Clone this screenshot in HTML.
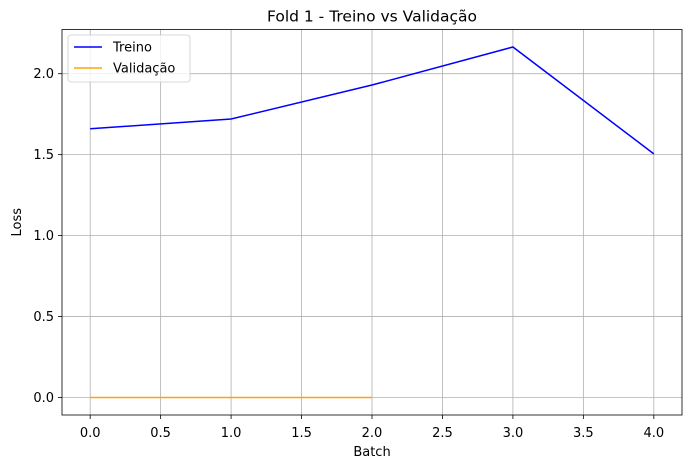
<!DOCTYPE html>
<html><head><meta charset="utf-8"><style>
body{margin:0;background:#fff;font-family:"Liberation Sans","DejaVu Sans",sans-serif;}
svg text{font-family:"DejaVu Sans","Liberation Sans",sans-serif;}
</style></head><body>
<svg id="chart" width="691" height="468" xmlns="http://www.w3.org/2000/svg"></svg>
<script>
const trainBatches = [0, 1, 2, 3, 4];
const trainLoss = [1.66, 1.72, 1.93, 2.165, 1.505];
const valBatches = [0, 1, 2];
const valLoss = [0, 0, 0];
const xTicks = [0.0, 0.5, 1.0, 1.5, 2.0, 2.5, 3.0, 3.5, 4.0];
const yTicks = [0.0, 0.5, 1.0, 1.5, 2.0];

const L=62, R=682, T=29.5, B=415;
const xMin=-0.2, xMax=4.2, yMin=-0.108, yMax=2.273;
const sx=v=>L+(v-xMin)/(xMax-xMin)*(R-L);
const sy=v=>B-(v-yMin)/(yMax-yMin)*(B-T);
const svg=document.getElementById('chart');
const NS='http://www.w3.org/2000/svg';
function mk(tag,attrs,parent){const e=document.createElementNS(NS,tag);for(const k in attrs)e.setAttribute(k,attrs[k]);(parent||svg).appendChild(e);return e;}

const grid=mk('g',{});


xTicks.forEach(t=>{
  const l=mk('line',{x1:sx(t),x2:sx(t),y1:T,y2:B,stroke:'#b0b0b0','stroke-width':0.8},grid);
  
  
  mk('line',{x1:sx(t),x2:sx(t),y1:B,y2:B+4,stroke:'#000','stroke-width':0.8});
  const tx=mk('text',{x:sx(t),y:B+22,'text-anchor':'middle','font-size':13});
  tx.textContent=t.toFixed(1);
  
  
});
yTicks.forEach(t=>{
  const l=mk('line',{x1:L,x2:R,y1:sy(t),y2:sy(t),stroke:'#b0b0b0','stroke-width':0.8},grid);
  
  
  mk('line',{x1:L-4,x2:L,y1:sy(t),y2:sy(t),stroke:'#000','stroke-width':0.8});
  const tx=mk('text',{x:L-8,y:sy(t)+4.5,'text-anchor':'end','font-size':13});
  tx.textContent=t.toFixed(1);
  
  
});

const tl=mk('polyline',{points:trainBatches.map((b,i)=>sx(b)+','+sy(trainLoss[i])).join(' '),fill:'none',stroke:'#0000ff','stroke-width':1.5});


const vl=mk('polyline',{points:valBatches.map((b,i)=>sx(b)+','+sy(valLoss[i])).join(' '),fill:'none',stroke:'#ffa500','stroke-width':1.5});



const frame=mk('rect',{x:L,y:T,width:R-L,height:B-T,fill:'none',stroke:'#000','stroke-width':0.8});



const title=mk('text',{x:(L+R)/2,y:T-8,'text-anchor':'middle','font-size':15.5});
title.textContent='Fold 1 - Treino vs Validação';


const xl=mk('text',{x:(L+R)/2,y:456,'text-anchor':'middle','font-size':13});
xl.textContent='Batch';


const yl=mk('text',{x:21,y:(T+B)/2,'text-anchor':'middle','font-size':13,transform:'rotate(-90 21 '+((T+B)/2)+')'});
yl.textContent='Loss';



const lg=mk('g',{});


mk('rect',{x:68,y:35,width:122,height:47,rx:3,fill:'#fff','fill-opacity':0.8,stroke:'#ccc','stroke-width':0.8},lg);
[['Treino','#0000ff',49],['Validação','#ffa500',70]].forEach(([n,c,y])=>{
  const e=mk('g',{},lg);
  
  
  mk('line',{x1:74,x2:102,y1:y-2,y2:y-2,stroke:c,'stroke-width':1.5},e);
  const t=mk('text',{x:113,y:y+2.5,'font-size':13},e);
  t.textContent=n;
});
</script>
</body></html>
